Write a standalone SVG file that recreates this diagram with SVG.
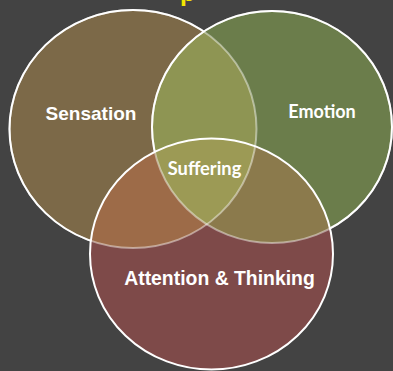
<svg xmlns="http://www.w3.org/2000/svg" width="393" height="371" viewBox="0 0 393 371">
  <style>
    .label { fill: #ffffff; font-weight: bold; text-anchor: middle; }
    .arial { font-family: "Liberation Sans", Arial, sans-serif; }
    .humanist { font-family: Lato, "Open Sans", sans-serif; }
    .edge { fill: none; stroke: #ffffff; stroke-width: 2; }
    .edge-soft { fill: none; stroke: #ffffff; stroke-width: 2; stroke-opacity: 0.45; }
  </style>
  <defs>
    <ellipse id="shape-sensation" cx="133" cy="129" rx="123.5" ry="119"/>
    <ellipse id="shape-emotion" cx="272" cy="127" rx="120" ry="116"/>
    <ellipse id="shape-attention" cx="211.5" cy="254" rx="121.5" ry="115.5"/>
    <clipPath id="clip-sensation"><use href="#shape-sensation"/></clipPath>
    <clipPath id="clip-emotion"><use href="#shape-emotion"/></clipPath>
    <clipPath id="clip-attention"><use href="#shape-attention"/></clipPath>
    <!-- outline segments that run outside the later circles stay fully white -->
    <mask id="outside-emotion-attention" maskUnits="userSpaceOnUse" x="0" y="0" width="393" height="371">
      <rect width="393" height="371" fill="#fff"/>
      <use href="#shape-emotion" fill="#000"/>
      <use href="#shape-attention" fill="#000"/>
    </mask>
    <mask id="outside-attention" maskUnits="userSpaceOnUse" x="0" y="0" width="393" height="371">
      <rect width="393" height="371" fill="#fff"/>
      <use href="#shape-attention" fill="#000"/>
    </mask>
  </defs>

  <rect width="393" height="371" fill="#434343"/>

  <!-- cut-off heading glyph at the top edge -->
  <text x="188" y="0.5" fill="#f2e600" font-family="Lato, sans-serif" font-weight="bold" font-size="28" text-anchor="middle">p</text>

  <g id="sensation">
    <use href="#shape-sensation" fill="#7c6948"/>
    <text class="label arial" x="91" y="120" font-size="19">Sensation</text>
  </g>

  <g id="emotion">
    <use href="#shape-emotion" fill="#6b7d4b"/>
    <text class="label humanist" x="322" y="118" font-size="18">Emotion</text>
  </g>

  <g id="attention">
    <use href="#shape-attention" fill="#7e4a49"/>
    <text class="label arial" x="219.5" y="285" font-size="19.4">Attention &amp; Thinking</text>
  </g>

  <!-- pairwise and triple overlaps -->
  <g id="overlaps">
    <g clip-path="url(#clip-sensation)">
      <use href="#shape-emotion" fill="#8e9553"/>
      <use href="#shape-attention" fill="#9d6b48"/>
    </g>
    <g clip-path="url(#clip-emotion)">
      <use href="#shape-attention" fill="#8b7a4c"/>
    </g>
    <g clip-path="url(#clip-sensation)">
      <g clip-path="url(#clip-emotion)">
        <use href="#shape-attention" fill="#9c9a55"/>
      </g>
    </g>
  </g>

  <g id="outlines">
    <use href="#shape-sensation" class="edge-soft"/>
    <use href="#shape-sensation" class="edge" mask="url(#outside-emotion-attention)"/>
    <use href="#shape-emotion" class="edge-soft"/>
    <use href="#shape-emotion" class="edge" mask="url(#outside-attention)"/>
    <use href="#shape-attention" class="edge"/>
  </g>

  <g id="suffering">
    <text class="label humanist" x="204.5" y="175" font-size="18.3">Suffering</text>
  </g>
</svg>
